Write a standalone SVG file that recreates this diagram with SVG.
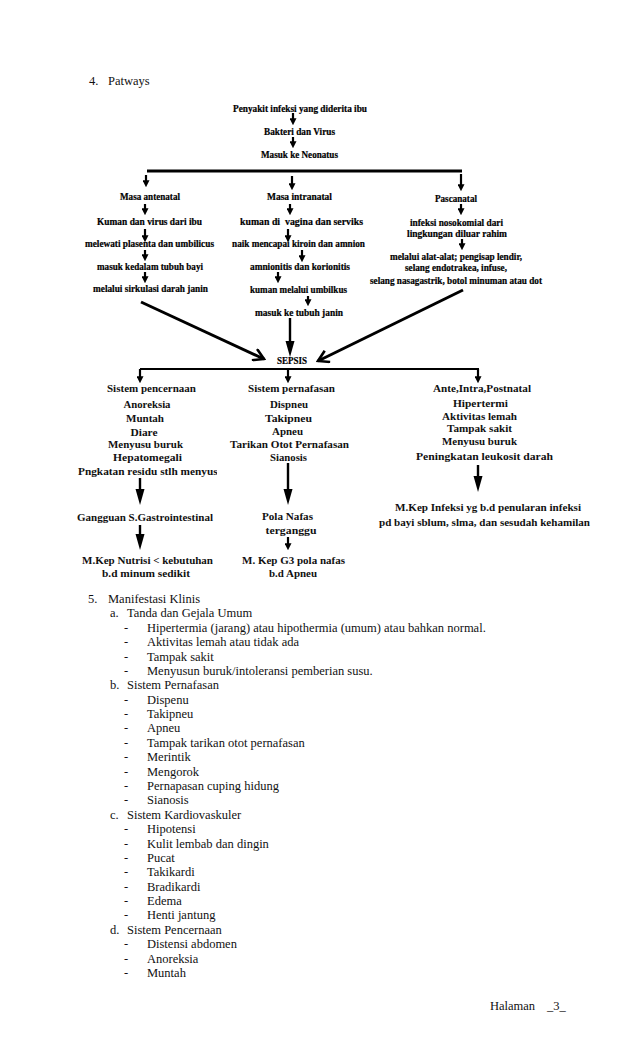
<svg xmlns="http://www.w3.org/2000/svg" width="638" height="1051" viewBox="0 0 638 1051">
<style>
.t1{font-family:"Liberation Serif","Times New Roman",serif;font-weight:bold;font-size:9.5px;fill:#000;stroke:#000;stroke-width:0.2;text-anchor:middle}
.t2{font-family:"Liberation Serif","Times New Roman",serif;font-weight:bold;font-size:11px;fill:#111;text-anchor:middle}
.li{font-family:"Liberation Serif","Times New Roman",serif;font-size:12.5px;fill:#111}
.ln{stroke:#000;fill:none}
.sa{stroke:#000;stroke-width:2.2;fill:none;marker-end:url(#sm)}
.ba{stroke:#000;stroke-width:2.4;fill:none;marker-end:url(#big)}
.ca{stroke:#000;stroke-width:3;fill:none;marker-end:url(#chev)}
</style>
<defs>
<marker id="sm" viewBox="0 0 8 8" refX="2" refY="4" markerWidth="7" markerHeight="7" markerUnits="userSpaceOnUse" orient="auto"><path d="M0,0 L8,4 L0,8 z" fill="#000"/></marker>
<marker id="big" viewBox="0 0 16 10" refX="4" refY="5" markerWidth="16" markerHeight="10" markerUnits="userSpaceOnUse" orient="auto"><path d="M0,0.5 L16,5 L0,9.5 z" fill="#000"/></marker>
<marker id="chev" viewBox="0 0 14 14" refX="12" refY="7" markerWidth="14" markerHeight="14" markerUnits="userSpaceOnUse" orient="auto"><path d="M1.5,0.8 L12,7 L1.5,13.2" fill="none" stroke="#000" stroke-width="2.6"/></marker>
<clipPath id="clipP"><rect x="60" y="460" width="157" height="20"/></clipPath>
</defs>
<rect width="638" height="1051" fill="#fff"/>

<g id="heading">
<text class="li" x="89" y="85">4.</text>
<text class="li" x="108" y="85">Patways</text>
</g>

<g id="connectors">
<path class="sa" d="M293,113 V120"/>
<path class="sa" d="M293,137 V143"/>
<path class="ln" stroke-width="3" d="M147,171 H462"/>
<path class="sa" d="M146,175 V182"/>
<path class="sa" d="M292,176 V185"/>
<path class="sa" d="M461,174 V186"/>
<path class="sa" d="M145,204 V210"/>
<path class="sa" d="M145,229 V237"/>
<path class="sa" d="M145,250 V256"/>
<path class="sa" d="M145,272 V278"/>
<path class="sa" d="M290,204 V210"/>
<path class="sa" d="M288,229 V237"/>
<path class="sa" d="M302,250 V257"/>
<path class="sa" d="M278,272 V278"/>
<path class="sa" d="M308,296 V301"/>
<path class="sa" d="M461,204 V210"/>
<path class="sa" d="M462,239 V245"/>
<path class="ca" d="M141,302 L264,359"/>
<path class="ca" d="M463,290 L318,361"/>
<path class="ba" d="M290,318 V345"/>
<path class="ln" stroke-width="2" d="M140,369 H479"/>
<path class="sa" d="M140,369 V378"/>
<path class="sa" d="M288,369 V378"/>
<path class="sa" d="M478,369 V378"/>
<path class="ba" d="M478,465 V480"/>
<path class="ba" d="M288,463 V493"/>
<path class="ba" d="M140,478 V493"/>
<path class="ba" d="M140,525 V538"/>
<path class="sa" d="M288,537 V545"/>
</g>

<g id="n-penyakit"><text class="t1" x="300" y="112" textLength="134" lengthAdjust="spacingAndGlyphs">Penyakit infeksi yang diderita ibu</text></g>
<g id="n-bakteri"><text class="t1" x="299.5" y="135" textLength="71" lengthAdjust="spacingAndGlyphs">Bakteri dan Virus</text></g>
<g id="n-masuk-neonatus"><text class="t1" x="299.5" y="158" textLength="77" lengthAdjust="spacingAndGlyphs">Masuk ke Neonatus</text></g>

<g id="n-antenatal"><text class="t1" x="150" y="200" textLength="60" lengthAdjust="spacingAndGlyphs">Masa antenatal</text></g>
<g id="n-intranatal"><text class="t1" x="299.5" y="200" textLength="65" lengthAdjust="spacingAndGlyphs">Masa intranatal</text></g>
<g id="n-pascanatal"><text class="t1" x="456" y="202" textLength="42" lengthAdjust="spacingAndGlyphs">Pascanatal</text></g>

<g id="n-ante-1"><text class="t1" x="149.5" y="225" textLength="105" lengthAdjust="spacingAndGlyphs">Kuman dan virus dari ibu</text></g>
<g id="n-ante-2"><text class="t1" x="149.5" y="247" textLength="129" lengthAdjust="spacingAndGlyphs">melewati plasenta dan umbilicus</text></g>
<g id="n-ante-3"><text class="t1" x="150" y="270" textLength="106" lengthAdjust="spacingAndGlyphs">masuk kedalam tubuh bayi</text></g>
<g id="n-ante-4"><text class="t1" x="150.5" y="292" textLength="115" lengthAdjust="spacingAndGlyphs">melalui sirkulasi darah janin</text></g>

<g id="n-intra-1"><text class="t1" x="301.5" y="225" textLength="123" lengthAdjust="spacingAndGlyphs" xml:space="preserve">kuman di  vagina dan serviks</text></g>
<g id="n-intra-2"><text class="t1" x="298.5" y="247" textLength="133" lengthAdjust="spacingAndGlyphs">naik mencapai kiroin dan amnion</text></g>
<g id="n-intra-3"><text class="t1" x="300" y="270" textLength="100" lengthAdjust="spacingAndGlyphs">amnionitis dan korionitis</text></g>
<g id="n-intra-4"><text class="t1" x="298.5" y="293" textLength="97" lengthAdjust="spacingAndGlyphs">kuman melalui umbilkus</text></g>
<g id="n-intra-5"><text class="t1" x="299" y="316" textLength="88" lengthAdjust="spacingAndGlyphs">masuk ke tubuh janin</text></g>

<g id="n-pasca-1">
<text class="t1" x="456.5" y="226" textLength="93" lengthAdjust="spacingAndGlyphs">infeksi nosokomial dari</text>
<text class="t1" x="457" y="237" textLength="100" lengthAdjust="spacingAndGlyphs">lingkungan diluar rahim</text>
</g>
<g id="n-pasca-2">
<text class="t1" x="456" y="260" textLength="132" lengthAdjust="spacingAndGlyphs">melalui alat-alat; pengisap lendir,</text>
<text class="t1" x="456" y="271" textLength="102" lengthAdjust="spacingAndGlyphs">selang endotrakea, infuse,</text>
<text class="t1" x="456" y="284" textLength="172" lengthAdjust="spacingAndGlyphs">selang nasagastrik, botol minuman atau dot</text>
</g>

<g id="n-sepsis"><text class="t1" x="292" y="364" textLength="30" lengthAdjust="spacingAndGlyphs">SEPSIS</text></g>

<g id="n-pencernaan">
<text class="t2" x="151.5" y="392" textLength="89" lengthAdjust="spacingAndGlyphs">Sistem pencernaan</text>
<text class="t2" x="147" y="408" textLength="47" lengthAdjust="spacingAndGlyphs">Anoreksia</text>
<text class="t2" x="145" y="422" textLength="38" lengthAdjust="spacingAndGlyphs">Muntah</text>
<text class="t2" x="144" y="436" textLength="27" lengthAdjust="spacingAndGlyphs">Diare</text>
<text class="t2" x="145.5" y="448" textLength="75" lengthAdjust="spacingAndGlyphs">Menyusu buruk</text>
<text class="t2" x="147.5" y="461" textLength="69" lengthAdjust="spacingAndGlyphs">Hepatomegali</text>
<g clip-path="url(#clipP)"><text class="t2" style="text-anchor:start" x="78" y="475" textLength="146" lengthAdjust="spacingAndGlyphs">Pngkatan residu stlh menyusu</text></g>
</g>

<g id="n-pernafasan">
<text class="t2" x="291.5" y="392" textLength="87" lengthAdjust="spacingAndGlyphs">Sistem pernafasan</text>
<text class="t2" x="289" y="408" textLength="38" lengthAdjust="spacingAndGlyphs">Dispneu</text>
<text class="t2" x="288.5" y="422" textLength="47" lengthAdjust="spacingAndGlyphs">Takipneu</text>
<text class="t2" x="287.5" y="435" textLength="31" lengthAdjust="spacingAndGlyphs">Apneu</text>
<text class="t2" x="289.5" y="448" textLength="119" lengthAdjust="spacingAndGlyphs">Tarikan Otot Pernafasan</text>
<text class="t2" x="288.5" y="461" textLength="37" lengthAdjust="spacingAndGlyphs">Sianosis</text>
</g>

<g id="n-antepost">
<text class="t2" x="482" y="392" textLength="98" lengthAdjust="spacingAndGlyphs">Ante,Intra,Postnatal</text>
<text class="t2" x="480.5" y="407" textLength="55" lengthAdjust="spacingAndGlyphs">Hipertermi</text>
<text class="t2" x="479.5" y="420" textLength="75" lengthAdjust="spacingAndGlyphs">Aktivitas lemah</text>
<text class="t2" x="479.5" y="432" textLength="65" lengthAdjust="spacingAndGlyphs">Tampak sakit</text>
<text class="t2" x="479.5" y="445" textLength="75" lengthAdjust="spacingAndGlyphs">Menyusu buruk</text>
<text class="t2" x="484.5" y="460" textLength="137" lengthAdjust="spacingAndGlyphs">Peningkatan leukosit darah</text>
</g>

<g id="n-mkep-infeksi">
<text class="t2" x="488" y="511" textLength="186" lengthAdjust="spacingAndGlyphs">M.Kep Infeksi yg b.d penularan infeksi</text>
<text class="t2" x="484.5" y="526" textLength="211" lengthAdjust="spacingAndGlyphs">pd bayi sblum, slma, dan sesudah kehamilan</text>
</g>

<g id="n-gangguan"><text class="t2" x="145" y="521" textLength="136" lengthAdjust="spacingAndGlyphs">Gangguan S.Gastrointestinal</text></g>
<g id="n-mkep-nutrisi">
<text class="t2" x="147.5" y="564" textLength="131" lengthAdjust="spacingAndGlyphs">M.Kep Nutrisi &lt; kebutuhan</text>
<text class="t2" x="146" y="577" textLength="88" lengthAdjust="spacingAndGlyphs">b.d minum sedikit</text>
</g>

<g id="n-pola">
<text class="t2" x="287.5" y="520" textLength="51" lengthAdjust="spacingAndGlyphs">Pola Nafas</text>
<text class="t2" x="291" y="534" textLength="51" lengthAdjust="spacingAndGlyphs">terganggu</text>
</g>
<g id="n-mkep-pola">
<text class="t2" x="293.5" y="564" textLength="103" lengthAdjust="spacingAndGlyphs">M. Kep G3 pola nafas</text>
<text class="t2" x="293" y="577" textLength="48" lengthAdjust="spacingAndGlyphs">b.d Apneu</text>
</g>

<g id="manifestasi">
<text class="li" x="88" y="603">5.</text><text class="li" x="108" y="603">Manifestasi Klinis</text>
<text class="li" x="110" y="617.4">a.</text><text class="li" x="127" y="617.4">Tanda dan Gejala Umum</text>
<text class="li" x="124" y="631.8">-</text><text class="li" x="147" y="631.8">Hipertermia (jarang) atau hipothermia (umum) atau bahkan normal.</text>
<text class="li" x="124" y="646.1">-</text><text class="li" x="147" y="646.1">Aktivitas lemah atau tidak ada</text>
<text class="li" x="124" y="660.5">-</text><text class="li" x="147" y="660.5">Tampak sakit</text>
<text class="li" x="124" y="674.9">-</text><text class="li" x="147" y="674.9">Menyusun buruk/intoleransi pemberian susu.</text>
<text class="li" x="110" y="689.3">b.</text><text class="li" x="127" y="689.3">Sistem Pernafasan</text>
<text class="li" x="124" y="703.7">-</text><text class="li" x="147" y="703.7">Dispenu</text>
<text class="li" x="124" y="718">-</text><text class="li" x="147" y="718">Takipneu</text>
<text class="li" x="124" y="732.4">-</text><text class="li" x="147" y="732.4">Apneu</text>
<text class="li" x="124" y="746.8">-</text><text class="li" x="147" y="746.8">Tampak tarikan otot pernafasan</text>
<text class="li" x="124" y="761.2">-</text><text class="li" x="147" y="761.2">Merintik</text>
<text class="li" x="124" y="775.6">-</text><text class="li" x="147" y="775.6">Mengorok</text>
<text class="li" x="124" y="789.9">-</text><text class="li" x="147" y="789.9">Pernapasan cuping hidung</text>
<text class="li" x="124" y="804.3">-</text><text class="li" x="147" y="804.3">Sianosis</text>
<text class="li" x="110" y="818.7">c.</text><text class="li" x="127" y="818.7">Sistem Kardiovaskuler</text>
<text class="li" x="124" y="833.1">-</text><text class="li" x="147" y="833.1">Hipotensi</text>
<text class="li" x="124" y="847.5">-</text><text class="li" x="147" y="847.5">Kulit lembab dan dingin</text>
<text class="li" x="124" y="861.8">-</text><text class="li" x="147" y="861.8">Pucat</text>
<text class="li" x="124" y="876.2">-</text><text class="li" x="147" y="876.2">Takikardi</text>
<text class="li" x="124" y="890.6">-</text><text class="li" x="147" y="890.6">Bradikardi</text>
<text class="li" x="124" y="905">-</text><text class="li" x="147" y="905">Edema</text>
<text class="li" x="124" y="919.4">-</text><text class="li" x="147" y="919.4">Henti jantung</text>
<text class="li" x="110" y="933.7">d.</text><text class="li" x="127" y="933.7">Sistem Pencernaan</text>
<text class="li" x="124" y="948.1">-</text><text class="li" x="147" y="948.1">Distensi abdomen</text>
<text class="li" x="124" y="962.5">-</text><text class="li" x="147" y="962.5">Anoreksia</text>
<text class="li" x="124" y="976.9">-</text><text class="li" x="147" y="976.9">Muntah</text>
</g>

<g id="footer">
<text class="li" x="490" y="1010">Halaman</text>
<text class="li" x="547" y="1010">_3_</text>
</g>
</svg>
